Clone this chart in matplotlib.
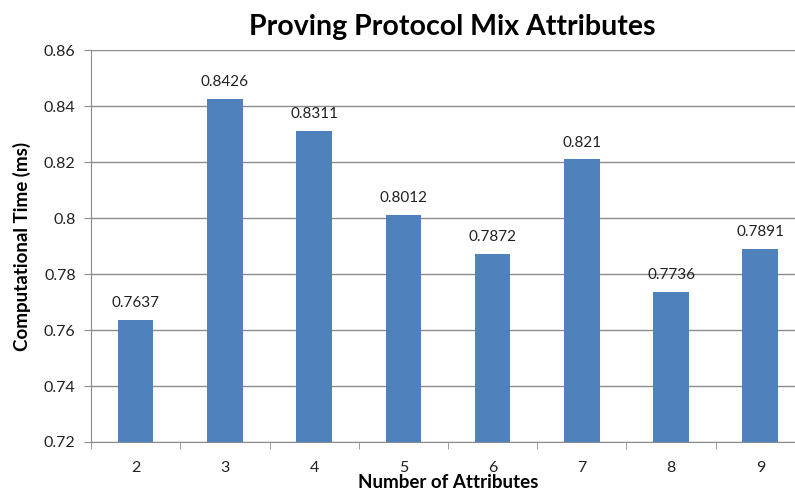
import numpy as np
import matplotlib.pyplot as plt

# data
attributes = ['2', '3', '4', '5', '6', '7', '8', '9']
comp_time = [0.7637, 0.8426, 0.8311, 0.8012, 0.7872, 0.821, 0.7736, 0.7891]
value_labels = ['0.7637', '0.8426', '0.8311', '0.8012', '0.7872', '0.821', '0.7736', '0.7891']
y_ticks = [0.72, 0.74, 0.76, 0.78, 0.80, 0.82, 0.84, 0.86]
y_tick_labels = ['0.72', '0.74', '0.76', '0.78', '0.8', '0.82', '0.84', '0.86']

plt.rcParams['font.family'] = ['Lato', 'DejaVu Sans']

fig = plt.figure(figsize=(7.95, 4.91), dpi=100)
ax = fig.add_axes([0.1145, 0.0998, 0.898, 0.798])

x = np.arange(len(attributes))
ax.bar(x, comp_time, width=0.4, color='#4F81BD', zorder=3)

for xi, v, lab in zip(x, comp_time, value_labels):
    ax.annotate(lab, (xi, v), xytext=(0, 7), textcoords='offset points',
                ha='center', va='bottom', fontsize=11, color='#222222')

ax.set_ylim(0.72, 0.86)
ax.set_xlim(-0.5, len(attributes) - 0.5)
ax.set_yticks(y_ticks)
ax.set_yticklabels(y_tick_labels, fontsize=11.5, color='#222222')
ax.yaxis.grid(True, color='#8c8c8c', linewidth=1.0, zorder=0)

# category labels centred, tick marks between categories
ax.set_xticks(x)
ax.set_xticklabels(attributes, fontsize=11.5, color='#222222')
ax.set_xticks(np.arange(len(attributes) + 1) - 0.5, minor=True)
ax.tick_params(axis='x', which='major', length=0, pad=14)
ax.tick_params(axis='x', which='minor', length=5, color='#8c8c8c', direction='out')
ax.tick_params(axis='y', length=5, color='#8c8c8c', direction='out', pad=6)

for side in ['top', 'right']:
    ax.spines[side].set_visible(False)
for side in ['left', 'bottom']:
    ax.spines[side].set_color('#8c8c8c')

ax.set_ylabel('Computational Time (ms)', fontsize=13.5, fontweight='bold', labelpad=9)
fig.text(0.5635, 0.0, 'Number of Attributes', ha='center', va='bottom',
         fontsize=13.5, fontweight='bold')
fig.text(0.569, 0.944, 'Proving Protocol Mix Attributes', ha='center', va='center',
         fontsize=20.5, fontweight='bold')

fig.savefig('out.png', dpi=100)
